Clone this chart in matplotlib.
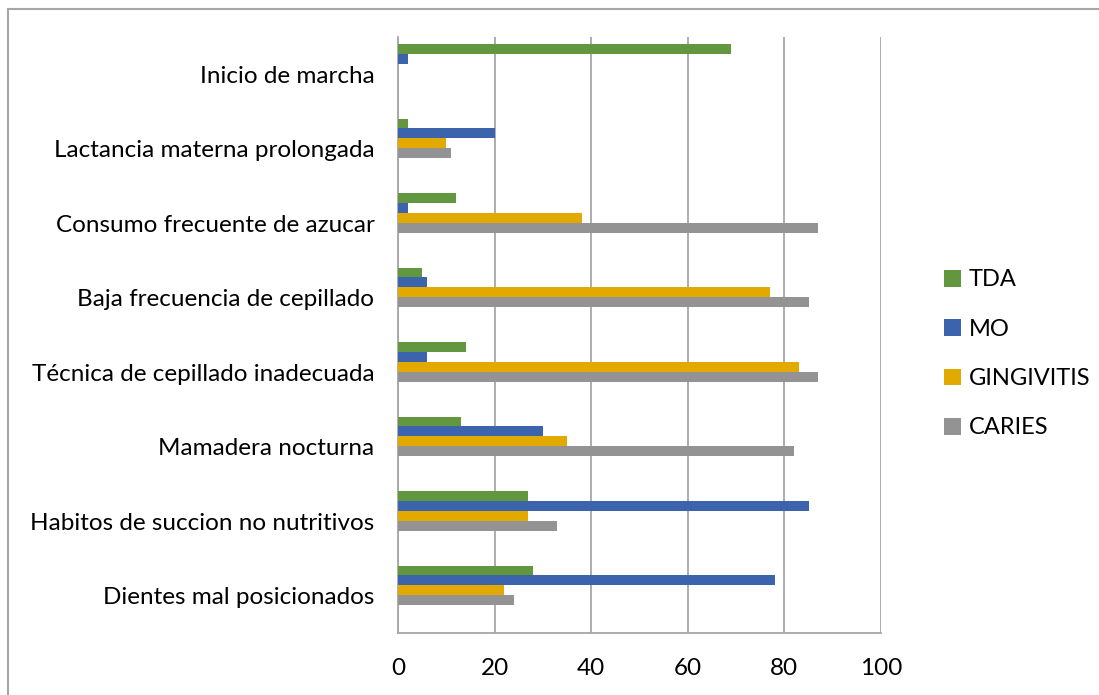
import matplotlib
matplotlib.use("Agg")
import matplotlib.pyplot as plt
import numpy as np
from matplotlib.lines import Line2D
from matplotlib.patches import Patch

plt.rcParams["font.family"] = ["Lato", "DejaVu Sans"]

categories = [
    "Dientes mal posicionados",
    "Habitos de succion no nutritivos",
    "Mamadera nocturna",
    "Técnica de cepillado inadecuada",
    "Baja frecuencia de cepillado",
    "Consumo frecuente de azucar",
    "Lactancia materna prolongada",
    "Inicio de marcha",
]
series_names = ["CARIES", "GINGIVITIS", "MO", "TDA"]
caries = [24, 33, 82, 87, 85, 87, 11, 0]
gingivitis = [22, 27, 35, 83, 77, 38, 10, 0]
mo = [78, 85, 30, 6, 6, 2, 20, 2]
tda = [28, 27, 13, 14, 5, 12, 2, 69]
colors = ["#939393", "#E2A900", "#3C64AC", "#62973F"]
x_ticks = [0, 20, 40, 60, 80, 100]

W, H = 1099, 695
fig = plt.figure(figsize=(W / 100, H / 100), dpi=100)
ax = fig.add_axes([398 / W, 1 - 633 / H, (881 - 398) / W, (633 - 37) / H])

y = np.arange(len(categories))
bar_h = 0.134
offset0 = 0.138 - 1.5 * bar_h
for k, (vals, c) in enumerate(zip([caries, gingivitis, mo, tda], colors)):
    ax.barh(y + offset0 + k * bar_h, vals, height=bar_h, color=c, zorder=3)

ax.set_xlim(0, 100)
ax.set_ylim(-0.5, len(categories) - 0.5)
ax.set_xticks(x_ticks)
ax.set_yticks(y)
ax.set_yticklabels(categories)
ax.grid(True, axis="x", color="#A6A6A6", linewidth=1.3, zorder=0)
for side in ["top", "right"]:
    ax.spines[side].set_visible(False)
for side in ["left", "bottom"]:
    ax.spines[side].set_color("#A6A6A6")
    ax.spines[side].set_linewidth(1.3)
ax.tick_params(axis="both", length=0, labelsize=17.5, colors="#000000")
ax.tick_params(axis="x", pad=18)
ax.tick_params(axis="y", pad=17)

handles = [Patch(facecolor=c) for c in colors[::-1]]
fig.legend(handles, series_names[::-1], loc="center left",
           bbox_to_anchor=(944 / W, 1 - 354 / H), frameon=False,
           borderaxespad=0, borderpad=0,
           fontsize=17, handlelength=0.7, handleheight=0.7,
           handletextpad=0.35, labelspacing=1.2)

fig.add_artist(Line2D([7.5 / W, 7.5 / W], [0, 1 - 8.5 / H], color="#A6A6A6", linewidth=1.5))
fig.add_artist(Line2D([7.5 / W, 1], [1 - 8.5 / H, 1 - 8.5 / H], color="#A6A6A6", linewidth=1.5))

fig.savefig("out.png", dpi=100)
